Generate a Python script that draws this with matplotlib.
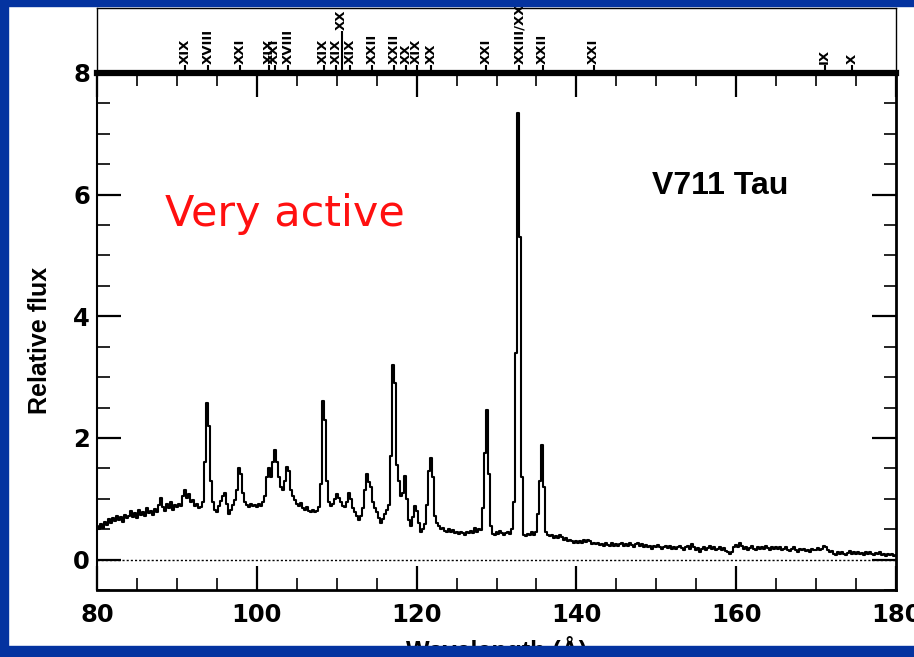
import numpy as np
import matplotlib
matplotlib.use("Agg")
import matplotlib.pyplot as plt
from matplotlib.patches import Rectangle
from matplotlib.ticker import MultipleLocator

# ---------------- data ----------------
wave_start = 80.0
wave_step = 0.25

flux_080 = [0.55, 0.50, 0.58, 0.52, 0.62, 0.57, 0.66, 0.60, 0.68, 0.63,
            0.72, 0.65, 0.70, 0.62, 0.74, 0.68, 0.72, 0.80, 0.70, 0.76,
            0.68, 0.82, 0.74, 0.79, 0.71, 0.85, 0.76, 0.80, 0.74, 0.83,
            0.78, 0.90, 1.02, 0.86, 0.80, 0.92, 0.84, 0.95, 0.82, 0.90]
flux_090 = [0.86, 0.92, 0.88, 1.05, 1.15, 1.02, 1.08, 0.94, 0.98, 0.88,
            0.92, 0.84, 0.86, 0.95, 1.60, 2.58, 2.20, 1.30, 0.95, 0.82,
            0.78, 0.88, 0.96, 1.05, 1.10, 0.92, 0.75, 0.82, 0.90, 0.98,
            1.15, 1.50, 1.40, 1.10, 0.95, 0.90, 0.86, 0.92, 0.88, 0.90]
flux_100 = [0.86, 0.92, 0.88, 0.95, 1.05, 1.35, 1.50, 1.35, 1.60, 1.80,
            1.60, 1.35, 1.20, 1.15, 1.30, 1.52, 1.45, 1.15, 1.05, 0.98,
            0.92, 0.88, 0.93, 0.85, 0.82, 0.86, 0.80, 0.78, 0.82, 0.78,
            0.80, 0.86, 1.25, 2.60, 2.30, 1.30, 0.95, 0.88, 0.92, 1.00]
flux_110 = [1.08, 1.02, 0.95, 0.88, 0.86, 0.95, 1.10, 1.00, 0.85, 0.78,
            0.72, 0.65, 0.72, 0.85, 1.15, 1.40, 1.28, 1.20, 0.95, 0.85,
            0.78, 0.68, 0.60, 0.66, 0.75, 0.82, 0.90, 1.70, 3.20, 2.90,
            1.55, 1.30, 1.05, 1.10, 1.38, 1.00, 0.65, 0.55, 0.70, 0.88]
flux_120 = [0.80, 0.60, 0.46, 0.50, 0.58, 0.90, 1.45, 1.67, 1.35, 0.72,
            0.60, 0.55, 0.50, 0.52, 0.47, 0.45, 0.50, 0.46, 0.48, 0.44,
            0.45, 0.42, 0.46, 0.44, 0.41, 0.45, 0.43, 0.47, 0.44, 0.52,
            0.45, 0.50, 0.48, 0.85, 1.75, 2.46, 1.40, 0.55, 0.42, 0.40]
flux_130 = [0.45, 0.42, 0.47, 0.43, 0.41, 0.44, 0.45, 0.42, 0.50, 0.95,
            3.40, 7.35, 5.30, 1.35, 0.40, 0.38, 0.42, 0.40, 0.45, 0.40,
            0.46, 0.75, 1.30, 1.89, 1.20, 0.45, 0.40, 0.38, 0.40, 0.36,
            0.38, 0.35, 0.40, 0.37, 0.33, 0.35, 0.30, 0.33, 0.31, 0.28]
flux_140 = [0.30, 0.27, 0.31, 0.28, 0.32, 0.29, 0.33, 0.30, 0.26, 0.28,
            0.25, 0.27, 0.24, 0.26, 0.23, 0.27, 0.24, 0.22, 0.27, 0.23,
            0.26, 0.22, 0.25, 0.28, 0.23, 0.26, 0.22, 0.27, 0.24, 0.21,
            0.25, 0.28, 0.23, 0.25, 0.21, 0.24, 0.20, 0.23, 0.18, 0.22]
flux_150 = [0.20, 0.24, 0.21, 0.17, 0.20, 0.23, 0.19, 0.22, 0.18, 0.21,
            0.17, 0.20, 0.23, 0.19, 0.16, 0.20, 0.22, 0.18, 0.25, 0.20,
            0.15, 0.19, 0.13, 0.17, 0.20, 0.16, 0.19, 0.22, 0.17, 0.20,
            0.15, 0.18, 0.21, 0.16, 0.19, 0.14, 0.12, 0.09, 0.13, 0.20]
flux_160 = [0.24, 0.20, 0.27, 0.22, 0.17, 0.20, 0.16, 0.19, 0.22, 0.18,
            0.15, 0.20, 0.17, 0.21, 0.18, 0.22, 0.19, 0.16, 0.20, 0.18,
            0.21, 0.17, 0.20, 0.15, 0.18, 0.21, 0.16, 0.14, 0.17, 0.20,
            0.16, 0.13, 0.17, 0.15, 0.18, 0.14, 0.16, 0.13, 0.17, 0.15]
flux_170 = [0.16, 0.19, 0.15, 0.18, 0.22, 0.20, 0.15, 0.12, 0.14, 0.10,
            0.08, 0.12, 0.09, 0.13, 0.10, 0.07, 0.11, 0.14, 0.10, 0.12,
            0.09, 0.13, 0.10, 0.11, 0.08, 0.12, 0.09, 0.13, 0.10, 0.07,
            0.11, 0.09, 0.12, 0.08, 0.10, 0.06, 0.09, 0.07, 0.10, 0.06,
            0.08]

flux = np.array(flux_080 + flux_090 + flux_100 + flux_110 + flux_120 +
                flux_130 + flux_140 + flux_150 + flux_160 + flux_170)
wave = wave_start + wave_step * np.arange(len(flux))

# line identifications (wavelength, ion label)
line_waves = [91.02, 93.92, 97.88, 101.55, 102.22, 103.94, 108.37, 109.97,
              110.63, 111.70, 114.41, 117.17, 118.66, 120.00, 121.83, 128.73,
              132.85, 135.78, 142.16, 171.07, 174.53]
line_labels = ["XIX", "XVIII", "XXI", "XIX", "XXI", "XVIII", "XIX", "XIX",
               "XX", "XIX", "XXII", "XXII", "XX", "XIX", "XX", "XXI",
               "XXIII/XX", "XXII", "XXI", "IX", "X"]
line_tall = [False] * 8 + [True] + [False] * 12

x_ticks = [80, 100, 120, 140, 160, 180]
y_ticks = [0, 2, 4, 6, 8]

# ---------------- figure ----------------
W, H = 914, 657
BLUE = "#0433A0"
fig = plt.figure(figsize=(W / 100, H / 100), dpi=100, facecolor="white")

def fx(px):
    return px / W

def fy(py):
    return 1 - py / H

L, R, T, B = 97, 896, 73, 590
ax = fig.add_axes([fx(L), fy(B), fx(R - L), (B - T) / H])
ax.step(wave, flux, where="mid", color="black", lw=1.5)
ax.axhline(0, color="black", lw=1.0, ls=(0, (1.5, 1.5)))
ax.set_xlim(80, 180)
ax.set_ylim(-0.5, 8)
ax.set_xticks(x_ticks)
ax.set_yticks(y_ticks)
ax.xaxis.set_minor_locator(MultipleLocator(5))
ax.yaxis.set_minor_locator(MultipleLocator(0.5))
ax.tick_params(which="major", direction="in", length=17, width=1.6,
               top=True, right=True, labelsize=17.5, pad=9)
ax.tick_params(which="minor", direction="in", length=9, width=1.2,
               top=True, right=True)
ax.tick_params(axis="y", which="major", pad=5)
for lab in ax.get_xticklabels() + ax.get_yticklabels():
    lab.set_fontfamily("DejaVu Sans")
    lab.set_fontweight("bold")
ax.spines["top"].set_linewidth(4.5)
ax.spines["left"].set_linewidth(1.5)
ax.spines["bottom"].set_linewidth(2.0)
ax.spines["right"].set_linewidth(2.0)

fig.text(fx(720), fy(186), "V711 Tau", ha="center", va="center",
         fontsize=23, fontweight="bold", family="Liberation Sans")
fig.text(fx(285), fy(214), "Very active", ha="center", va="center",
         fontsize=31, color="#FF1010", family="DejaVu Sans")

fig.text(fx(40), fy(340), "Relative flux", rotation=90, ha="center",
         va="center", fontsize=18, fontweight="bold", family="Liberation Sans")
fig.text(fx(497), fy(650), "Wavelength (\u00c5)", ha="center", va="center",
         fontsize=18, fontweight="bold", family="Liberation Sans")

# top panel with line ids
TT = 8
axt = fig.add_axes([fx(L), fy(T), fx(R - L), (T - TT) / H])
axt.set_xlim(80, 180)
axt.set_ylim(0, 1)
axt.set_xticks([])
axt.set_yticks([])
for s in axt.spines.values():
    s.set_linewidth(1.0)
axt.spines["bottom"].set_visible(False)
axt.patch.set_alpha(0)
for lw_, lab, tall in zip(line_waves, line_labels, line_tall):
    top = 0.64 if tall else 0.12
    axt.vlines(lw_, 0, top, color="black", lw=1.5)
    axt.text(lw_, top + 0.02, lab, rotation=90, ha="center", va="bottom",
             fontsize=9.5, fontweight="bold", family="DejaVu Sans")

# blue frame on top
for rect in [(0, 0, 8, H), (0, 0, W, 6), (0, 646, W, H - 646)]:
    x0, y0, w, h = rect
    fig.add_artist(Rectangle((fx(x0), fy(y0 + h)), w / W, h / H,
                             transform=fig.transFigure, color=BLUE,
                             zorder=10))

fig.savefig("out.png", dpi=100, facecolor=fig.get_facecolor())
